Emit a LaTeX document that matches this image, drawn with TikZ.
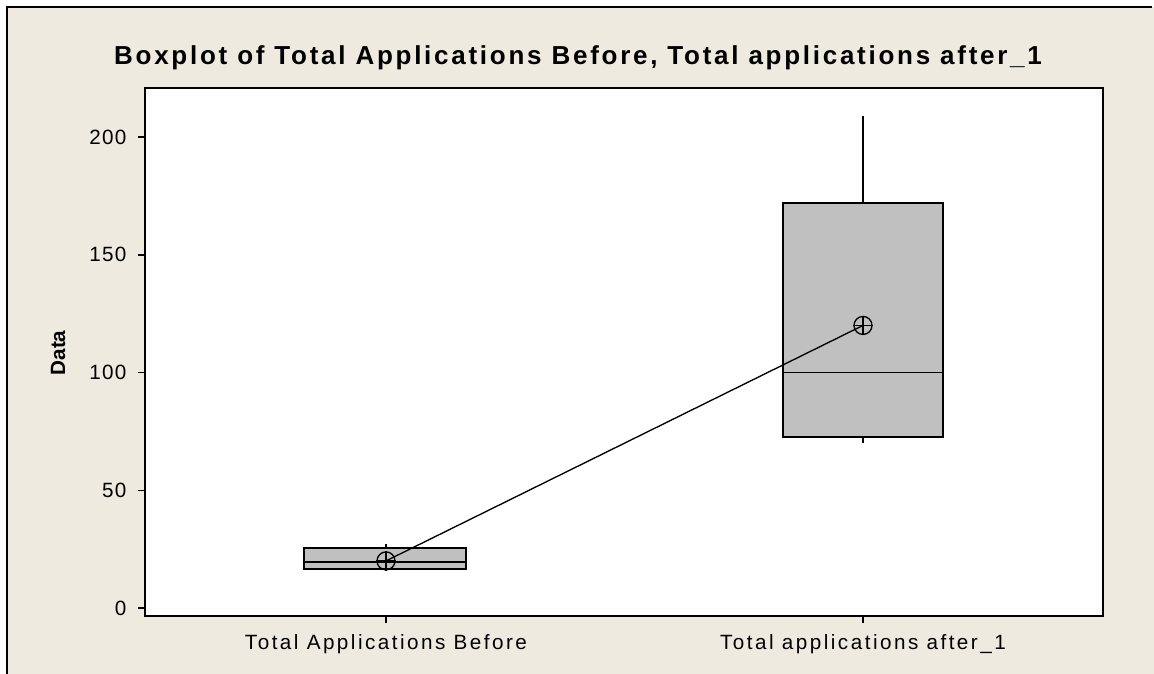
\documentclass[tikz,border=0pt]{standalone}
\usepackage{fontspec}
\setmainfont{Liberation Sans}
\definecolor{paneBg}{RGB}{238,234,224}
\definecolor{boxGray}{RGB}{192,192,192}

\begin{document}
\begin{tikzpicture}
[x=0.75pt,y=-0.75pt,
  frameLine/.style={line width=1.5pt},%
  boxLine/.style={draw=black,line width=1.1pt,fill=boxGray},%
  whiskerLine/.style={line width=1.1pt},%
  meanMark/.style={circle,draw=black,line width=1pt,minimum size=13.5pt,inner sep=0pt},%
  tickLabel/.style={font=\fontsize{15.5}{18}\selectfont\addfontfeature{LetterSpace=6}},%
  catLabel/.style={font=\fontsize{15.5}{18}\selectfont\addfontfeature{LetterSpace=12}}]
\useasboundingbox (0,0) rectangle (1154,674);
\fill[white] (0,0) rectangle (1154,674);
\fill[paneBg] (7,7) rectangle (1154,674);
\draw[frameLine] (7,674) -- (7,7) -- (1152,7);
%% plot area
\fill[white] (145,88) rectangle (1103,616);
\node[anchor=base,font=\fontsize{19.5}{23}\selectfont\bfseries\addfontfeature{LetterSpace=10.5}] (title)
  at (578,65) {Boxplot of Total Applications Before, Total applications after\_1};
\node[rotate=90,font=\fontsize{15.5}{18}\selectfont\bfseries] (yLabel) at (58,353) {Data};
%% data scope: one unit = 2.355px
\begin{scope}[shift={(0,608)},y=1.766pt]
\foreach \v in {0,50,100,150,200}
{
  \draw[whiskerLine] (138,\v) -- (145,\v);
  \node[tickLabel,anchor=east] (tick\v) at (131,\v) {\v};
}
%% before
\draw[whiskerLine] (386,25.5) -- (386,27.2);
\draw[boxLine] (304,16.6) rectangle (466,25.5);
\draw[whiskerLine] (304,19.5) -- (466,19.5);
\node[meanMark] (meanBefore) at (386,20) {};
%% after
\draw[whiskerLine] (863,172) -- (863,209);
\draw[whiskerLine] (863,72.6) -- (863,70);
\draw[boxLine] (783,72.6) rectangle (943,172);
\draw[whiskerLine] (783,100) -- (943,100);
\node[meanMark] (meanAfter) at (863,120) {};
\end{scope}
%% mean connect line and crosses
\draw[line width=1pt] (meanBefore.center) -- (meanAfter.center);
\foreach \m in {meanBefore,meanAfter}
{
  \draw[line width=1pt] (\m.north) -- (\m.south);
  \draw[line width=1pt] (\m.west) -- (\m.east);
}
\draw[frameLine] (145,88) rectangle (1103,616);
\draw[whiskerLine] (386,616) -- (386,623);
\draw[whiskerLine] (863,616) -- (863,623);
\node[catLabel,anchor=base] (catBefore) at (386,649) {Total Applications Before};
\node[catLabel,anchor=base] (catAfter) at (863,649) {Total applications after\_1};
\end{tikzpicture}
\end{document}
